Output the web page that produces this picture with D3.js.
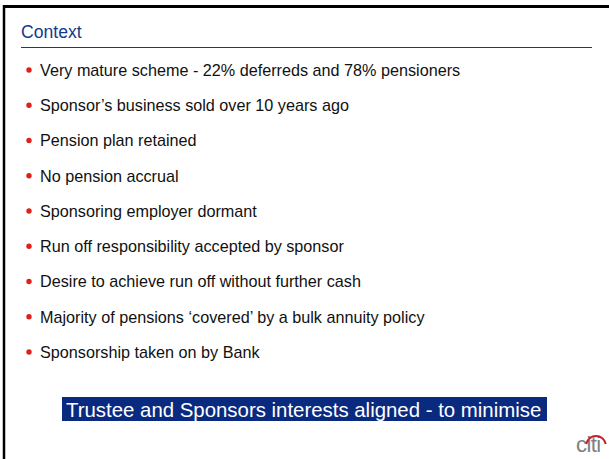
<!DOCTYPE html>
<html>
<head>
<meta charset="utf-8">
<script src="https://cdn.jsdelivr.net/npm/d3@7"></script>
<style>
  html, body { margin: 0; padding: 0; background: #fff; }
  svg { display: block; font-family: "Liberation Sans", Arial, sans-serif; }
</style>
</head>
<body>
<div class="canvas"></div>
<script>
// slide content
const title = 'Context';
const bullets = [
    'Very mature scheme - 22% deferreds and 78% pensioners',
    'Sponsor\u2019s business sold over 10 years ago',
    'Pension plan retained',
    'No pension accrual',
    'Sponsoring employer dormant',
    'Run off responsibility accepted by sponsor',
    'Desire to achieve run off without further cash',
    'Majority of pensions \u2018covered\u2019 by a bulk annuity policy',
    'Sponsorship taken on by Bank'
];
const banner = 'Trustee and Sponsors interests aligned - to minimise';
const logo = 'citi';

const width = 609;
const height = 459;
const navy = '#123a8c';

const svg = d3.select('.canvas')
    .append('svg')
    .attr('width', width)
    .attr('height', height);

// frame: thick top + left edges
svg.append('line')
    .attr('x1', 3).attr('x2', width)
    .attr('y1', 6.5).attr('y2', 6.5)
    .attr('stroke', '#000').attr('stroke-width', 3);
svg.append('line')
    .attr('x1', 4).attr('x2', 4)
    .attr('y1', 5).attr('y2', height)
    .attr('stroke', '#000').attr('stroke-width', 2.5);

// title + rule
svg.append('text')
    .attr('x', 21).attr('y', 38)
    .attr('font-size', 17.6)
    .attr('fill', navy)
    .text(title);
svg.append('line')
    .attr('x1', 21).attr('x2', 592)
    .attr('y1', 47.5).attr('y2', 47.5)
    .attr('stroke', navy).attr('stroke-width', 1.2);

// rows of bullets placed on a point scale
const y = d3.scalePoint()
    .domain(d3.range(bullets.length))
    .range([70, 352]);

const rows = svg.append('g').selectAll('g')
    .data(bullets)
    .enter()
    .append('g')
    .attr('transform', (d, i) => `translate(0, ${y(i)})`);

rows.append('circle')
    .attr('cx', 29).attr('cy', 0)
    .attr('r', 2.7)
    .attr('fill', '#e0201b');

rows.append('text')
    .attr('x', 40).attr('y', 0)
    .attr('dy', '0.36em')
    .attr('font-size', 16.2)
    .attr('fill', '#111')
    .text(d => d);

// highlighted banner
const bannerG = svg.append('g');
bannerG.append('rect')
    .attr('x', 62).attr('y', 397)
    .attr('width', 485).attr('height', 24)
    .attr('fill', '#0a2a80');
bannerG.append('text')
    .attr('x', 66).attr('y', 409.5)
    .attr('dy', '0.36em')
    .attr('font-size', 20.4)
    .attr('fill', '#fff')
    .text(banner);

// logo
const logoG = svg.append('g').attr('transform', 'translate(576, 452)');
logoG.append('text')
    .attr('x', 0).attr('y', 0)
    .attr('font-size', 22)
    .attr('fill', '#808080')
    .attr('letter-spacing', -0.6)
    .text(logo);
logoG.append('path')
    .attr('d', d3.arc()({innerRadius: 9, outerRadius: 11, startAngle: -Math.PI / 2.3, endAngle: Math.PI / 2.3}))
    .attr('transform', 'translate(20, -6)')
    .attr('fill', '#c62127');
</script>
</body>
</html>
